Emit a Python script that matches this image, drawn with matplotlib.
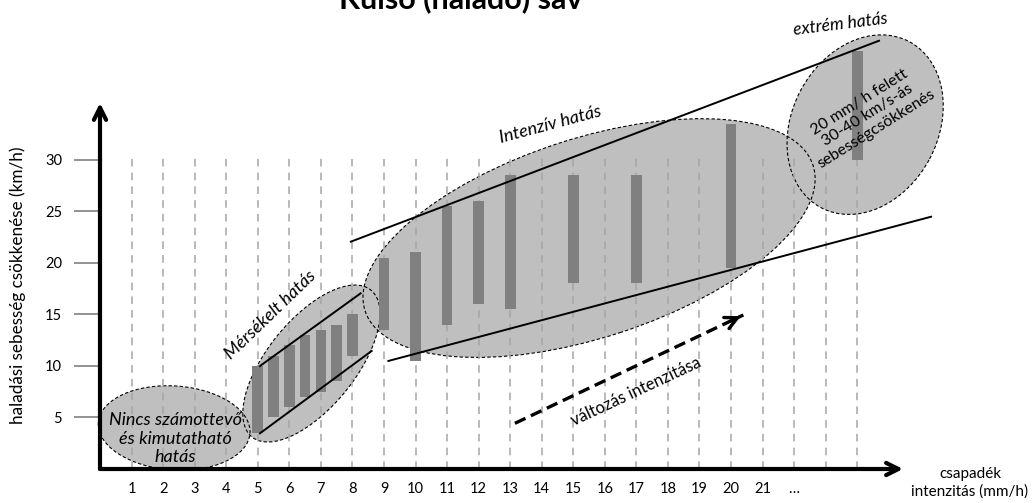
import matplotlib
matplotlib.use("Agg")
import matplotlib.pyplot as plt
import matplotlib.transforms as mtransforms
from matplotlib.patches import Ellipse

plt.rcParams['font.family'] = ['Lato', 'DejaVu Sans']

# adatok
bar_x = [5, 5.5, 6, 6.5, 7, 7.5, 8, 9, 10, 11, 12, 13, 15, 17, 20, 24]
bar_lo = [3.5, 5, 6, 7, 7.5, 8.5, 11, 13.5, 10.5, 14, 16, 15.5, 18, 18, 19.5, 30]
bar_hi = [10, 11, 12, 13, 13.5, 14, 15, 20.5, 21, 25.5, 26, 28.5, 28.5, 28.5, 33.5, 40.5]

x_ticks = list(range(1, 23))
x_labels = [str(i) for i in range(1, 22)] + ['…']
y_ticks = [5, 10, 15, 20, 25, 30]
grid_x = list(range(1, 25))

# trendvonalak (x, y)
lines = {
    'mers_upper': ([5.07, 8.26], [9.99, 17.04]),
    'mers_lower': ([5.07, 8.61], [3.46, 11.45]),
    'int_upper': ([7.95, 24.69], [22.05, 41.54]),
    'int_lower': ([9.14, 26.34], [10.48, 24.47]),
}
trend_arrow = ([13.15, 20.39], [4.43, 14.94])

# hatás-ellipszisek: közép (adat), szélesség/magasság (px), szög
ellipses = [
    ((2.35, 3.98), 152, 84, -4),
    ((6.70, 10.23), 189, 88, 51),
    ((15.50, 22.40), 471, 199, 18),
    ((24.25, 33.40), 188, 146, 62),
]

W, H = 1035, 503
fig = plt.figure(figsize=(W / 100, H / 100), dpi=100)
ax = fig.add_axes([100 / W, (H - 469) / H, 803 / W, 366 / H])
ax.set_xlim(0, 25.45)
ax.set_ylim(0, 35.5)
for s in ax.spines.values():
    s.set_visible(False)
ax.patch.set_alpha(0)

# ellipszisek: előbb kitöltés, aztán keret
for (c, w, h, a) in ellipses:
    tr = mtransforms.ScaledTranslation(c[0], c[1], ax.transData)
    ax.add_patch(Ellipse((0, 0), w, h, angle=a, transform=tr,
                         facecolor='#bfbfbf', edgecolor='none', zorder=1,
                         clip_on=False))
for (c, w, h, a) in ellipses:
    tr = mtransforms.ScaledTranslation(c[0], c[1], ax.transData)
    ax.add_patch(Ellipse((0, 0), w, h, angle=a, transform=tr,
                         facecolor='none', edgecolor='black', lw=0.8,
                         linestyle=(0, (3, 2)), zorder=1.5, clip_on=False))

ax.vlines(grid_x, 0, 30.2, colors='#a6a6a6', linestyles=(0, (5, 4)),
          lw=1.1, zorder=2)

ax.bar(bar_x, [h - l for h, l in zip(bar_hi, bar_lo)], bottom=bar_lo,
       width=0.34, color='#808080', zorder=3, clip_on=False)

for xs, ys in lines.values():
    ax.plot(xs, ys, color='black', lw=1.4, zorder=4, clip_on=False)

# szaggatott nyíl
ax.plot(trend_arrow[0], trend_arrow[1], color='black', lw=2.4,
        linestyle=(0, (3.5, 1.8)), zorder=4)
ax.annotate('', xy=(trend_arrow[0][1], trend_arrow[1][1]),
            xytext=(trend_arrow[0][1] - 0.5, trend_arrow[1][1] - 0.73),
            arrowprops=dict(arrowstyle='->', lw=2.4, color='black',
                            mutation_scale=22), zorder=5)

# tengelyek nyíllal
ax.annotate('', xy=(1, 0), xytext=(0, 0), xycoords='axes fraction',
            arrowprops=dict(arrowstyle='->', lw=3, color='black',
                            mutation_scale=22, shrinkA=0, shrinkB=0),
            zorder=6)
ax.annotate('', xy=(0, 1), xytext=(0, 0), xycoords='axes fraction',
            arrowprops=dict(arrowstyle='->', lw=3, color='black',
                            mutation_scale=22, shrinkA=0, shrinkB=0),
            zorder=6)

ax.set_yticks(y_ticks)
ax.set_yticklabels([str(v) for v in y_ticks])
ax.tick_params(axis='y', length=18.7, width=1.2, color='#808080',
               pad=8.5, labelsize=10.5)
ax.set_xticks(x_ticks)
ax.set_xticklabels(x_labels)
ax.tick_params(axis='x', length=0, pad=9.5, labelsize=10.5)

# feliratok
ax.text(2.4, 2.95, 'Nincs számottevő\nés kimutatható\nhatás', ha='center',
        va='center', style='italic', fontsize=13, linespacing=1.22, zorder=7)
ax.text(5.39, 14.94, 'Mérsékelt hatás', ha='center', va='center',
        style='italic', fontsize=13, rotation=44, zorder=7)
ax.text(14.26, 33.37, 'Intenzív hatás', ha='center', va='center',
        style='italic', fontsize=13, rotation=15, zorder=7)
ax.text(23.48, 43.16, 'extrém hatás', ha='center', va='center',
        style='italic', fontsize=12.5, rotation=7, zorder=7)
ax.text(24.33, 34.3, '20 mm/ h felett\n30-40 km/s-ás\nsebességcsökkenés',
        ha='center', va='center', fontsize=11.5, rotation=32,
        linespacing=1.15, zorder=7)
ax.text(16.99, 7.47, 'változás intenzitása', ha='center', va='center',
        fontsize=12, rotation=25, zorder=7)

fig.text(970 / W, (H - 483) / H, 'csapadék\nintenzitás (mm/h)', ha='center',
         va='center', fontsize=11, linespacing=1.3)
fig.text(18 / W, (H - 285) / H, 'haladási sebesség csökkenése (km/h)',
         ha='center', va='center', rotation=90, fontsize=12.3)
fig.text(461 / W, (H - 8) / H, 'Külső (haladó) sáv', ha='center',
         va='baseline', fontsize=22, weight='bold')

fig.savefig('out.png', dpi=100)
